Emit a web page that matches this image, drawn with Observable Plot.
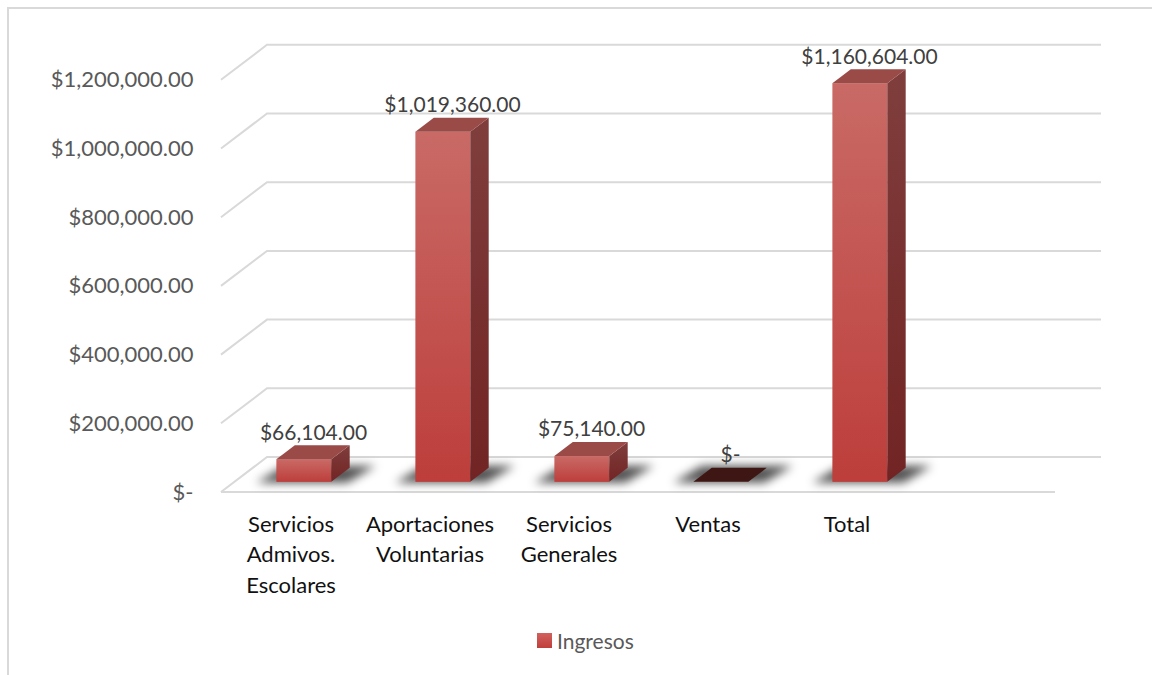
<!DOCTYPE html>
<html>
<head>
<meta charset="utf-8">
<script src="https://cdn.jsdelivr.net/npm/d3@7"></script>
<script src="https://cdn.jsdelivr.net/npm/@observablehq/plot@0.6"></script>
<style>
  html, body { margin: 0; padding: 0; background: #fff; }
  body { width: 1152px; height: 675px; position: relative; overflow: hidden; font-family: Lato, "Open Sans", sans-serif; }
  #frame { position: absolute; left: 7px; top: 7px; width: 1170px; height: 690px; border: 2px solid #d9d9d9; box-sizing: border-box; }
  #chart { position: absolute; left: 0; top: 0; }
  #legend { position: absolute; left: 537px; top: 628px; display: flex; align-items: center; font-size: 21px; color: #595959; }
  #legend .sw { width: 15px; height: 15px; background: linear-gradient(#d2605c, #bf3f3c); margin-right: 5px; }
</style>
</head>
<body>
<div id="frame"></div>
<div id="chart"></div>
<div id="legend"></div>
<script>
// ---- data ----
const categories = ["Servicios\nAdmivos.\nEscolares", "Aportaciones\nVoluntarias", "Servicios\nGenerales", "Ventas", "Total"];
const ingresos = [66104, 1019360, 75140, 0, 1160604];
const yTicks = [0, 200000, 400000, 600000, 800000, 1000000, 1200000];
const seriesName = "Ingresos";

const money = v => v === 0 ? "$-" : "$" + d3.format(",.2f")(v);

// 3D projection of the floor depth (px) and bar placement inside it
const DEPTH = [46, -35];
const BAR_FRONT = 0.29, BAR_BACK = 0.69, BAR_WIDTH = 0.395;

function scene(index, scales) {
  const x = scales.x, y = scales.y;
  const step = x(categories[1]) - x(categories[0]);
  const x0 = x(categories[0]);
  const xEnd = x0 + (categories.length + 1) * step;
  const g = d3.create("svg:g");
  const defs = g.append("defs");
  const grad = (id, a, b) => {
    const lg = defs.append("linearGradient").attr("id", id).attr("x1", 0).attr("y1", 0).attr("x2", 0).attr("y2", 1);
    lg.append("stop").attr("offset", 0).attr("stop-color", a);
    lg.append("stop").attr("offset", 1).attr("stop-color", b);
  };
  grad("gFront", "#c96a66", "#bd3e3b");
  grad("gSide", "#7f3e3c", "#722424");
  defs.append("filter").attr("id", "blur").attr("x", "-50%").attr("y", "-100%").attr("width", "200%").attr("height", "300%")
    .append("feGaussianBlur").attr("stdDeviation", 5);

  // walls / gridlines
  const grid = g.append("g").attr("stroke", "#d9d9d9").attr("stroke-width", 2).attr("fill", "none");
  for (const t of yTicks) {
    const yf = y(t), yb = yf + DEPTH[1];
    grid.append("path").attr("d", `M${x0},${yf}L${x0 + DEPTH[0]},${yb}H${xEnd + DEPTH[0]}`);
  }
  grid.append("path").attr("d", `M${x0},${y(0)}H${xEnd}`);

  const fdx = DEPTH[0] * BAR_FRONT, fdy = DEPTH[1] * BAR_FRONT;
  const ddx = DEPTH[0] * (BAR_BACK - BAR_FRONT), ddy = DEPTH[1] * (BAR_BACK - BAR_FRONT);
  const w = step * BAR_WIDTH;

  // shadows
  const sh = g.append("g").attr("filter", "url(#blur)").attr("fill", "#000").attr("fill-opacity", 0.68);
  ingresos.forEach((v, i) => {
    const c = x(categories[i]) + step / 2;
    const L = c + fdx - w / 2, B = y(0) + fdy;
    sh.append("path").attr("d",
      `M${L - 20},${B + 1}H${L + w + 16}L${L + w + ddx + 26},${B + ddy - 2}H${L + ddx - 10}Z`);
  });

  // bars
  const bars = g.append("g");
  ingresos.forEach((v, i) => {
    const c = x(categories[i]) + step / 2;
    const L = c + fdx - w / 2, R = L + w;
    const B = y(0) + fdy, T = y(v) + fdy;
    if (v === 0) {
      bars.append("path").attr("fill", "#3e1614")
        .attr("d", `M${L},${B}H${R}L${R + ddx},${B + ddy}H${L + ddx}Z`);
      return;
    }
    bars.append("rect").attr("x", L).attr("y", T).attr("width", w).attr("height", B - T).attr("fill", "url(#gFront)");
    bars.append("path").attr("fill", "url(#gSide)")
      .attr("d", `M${R},${T}L${R + ddx},${T + ddy}V${B + ddy}L${R},${B}Z`);
    bars.append("path").attr("fill", "#9a4b48")
      .attr("d", `M${L},${T}H${R}L${R + ddx},${T + ddy}H${L + ddx}Z`);
  });
  return g.node();
}

const chart = Plot.plot({
  width: 1152,
  height: 610,
  marginLeft: 221,
  marginTop: 20,
  marginRight: 20,
  marginBottom: 20,
  style: { fontFamily: "Lato, 'Open Sans', sans-serif", color: "#595959", background: "transparent", overflow: "visible" },
  x: { type: "band", domain: categories, range: [221, 916], padding: 0, axis: null },
  y: { domain: [0, 1200000], range: [492, 79.8], axis: null },
  marks: [
    scene,
    Plot.axisY(yTicks, { tickFormat: money, tickSize: 0, tickPadding: 28, fontSize: 22, fill: "#595959" }),
    Plot.text(categories, { x: d => d, y: () => 0, dy: 18, lineAnchor: "top", lineHeight: 1.38, fontSize: 22, fill: "#111" }),
    Plot.text(ingresos, { x: (d, i) => categories[i], y: d => d, text: money, dx: 22.5, dy: -37, fontSize: 21, fill: "#404040" })
  ]
});
document.getElementById("chart").append(chart);

const lg = document.getElementById("legend");
lg.innerHTML = `<span class="sw"></span><span></span>`;
lg.lastChild.textContent = seriesName;
</script>
</body>
</html>
